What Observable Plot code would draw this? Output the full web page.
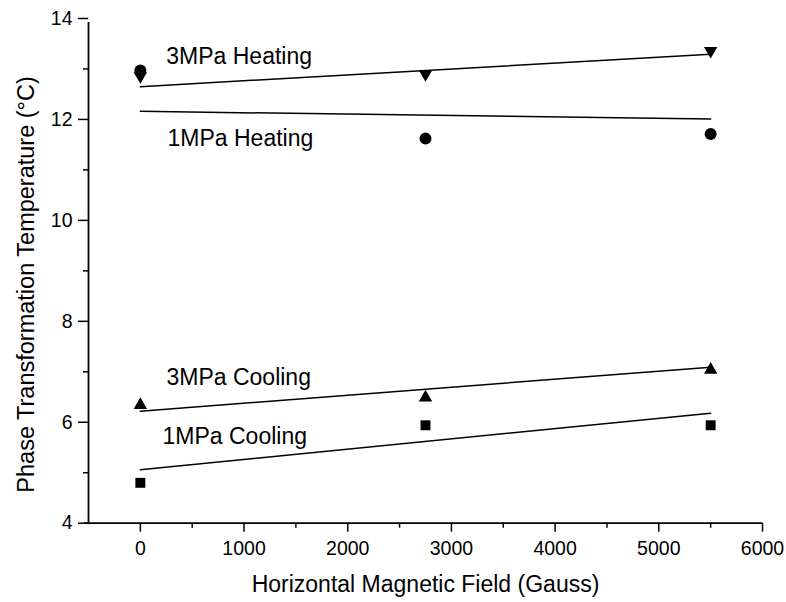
<!DOCTYPE html>
<html>
<head>
<meta charset="utf-8">
<script src="https://cdn.jsdelivr.net/npm/d3@7"></script>
<script src="https://cdn.jsdelivr.net/npm/@observablehq/plot@0.6"></script>
<style>
  html, body { margin: 0; padding: 0; background: #fff; }
  #chart svg { display: block; }
</style>
</head>
<body>
<div id="chart"></div>
<script>
// ---- data ----
const fieldGauss = [0, 2750, 5500];
const heating3MPa = [12.86, 12.90, 13.36];
const heating1MPa = [12.97, 11.62, 11.71];
const cooling3MPa = [6.34, 6.49, 7.04];
const cooling1MPa = [4.80, 5.94, 5.94];

// fitted lines (end points at 0 and 5500 Gauss)
const fitX = [0, 5500];
const fitHeating3MPa = [12.65, 13.29];
const fitHeating1MPa = [12.16, 12.01];
const fitCooling3MPa = [6.22, 7.09];
const fitCooling1MPa = [5.06, 6.18];

// annotation labels (data coordinates)
const labelText = ["3MPa Heating", "1MPa Heating", "3MPa Cooling", "1MPa Cooling"];
const labelX = [250, 262, 252, 214];
const labelY = [13.09, 11.48, 6.73, 5.56];

const xDomain = [-500, 6000];
const yDomain = [4, 14];
const xMajorTicks = [0, 1000, 2000, 3000, 4000, 5000, 6000];
const xMinorTicks = [500, 1500, 2500, 3500, 4500, 5500];
const yMajorTicks = [4, 6, 8, 10, 12, 14];
const yMinorTicks = [5, 7, 9, 11, 13];

const xTitle = "Horizontal Magnetic Field (Gauss)";
const yTitle = "Phase Transformation Temperature (°C)";

// ---- build tables ----
const pts = (ys) => fieldGauss.map((x, i) => ({x, y: ys[i]}));
const fit = (ys) => fitX.map((x, i) => ({x, y: ys[i]}));
const labels = labelText.map((t, i) => ({t, x: labelX[i], y: labelY[i]}));

// downward triangle symbol (d3 triangle flipped)
const triangleDown = {
  draw(context, size) {
    const y = Math.sqrt(size / (3 * Math.sqrt(3)));
    context.moveTo(0, 2 * y);
    context.lineTo(-Math.sqrt(3) * y, -y);
    context.lineTo(Math.sqrt(3) * y, -y);
    context.closePath();
  }
};

const lineStyle = {x: "x", y: "y", stroke: "black", strokeWidth: 1.5};

const chart = Plot.plot({
  width: 786,
  height: 602,
  marginLeft: 88,
  marginRight: 24,
  marginTop: 18,
  marginBottom: 79.3,
  style: {fontFamily: "'Liberation Sans', Arial, sans-serif", fontSize: "19px", background: "white", color: "black"},
  x: {domain: xDomain, label: null},
  y: {domain: yDomain, label: null},
  marks: [
    Plot.axisX({ticks: xMinorTicks, tickSize: 5, tickFormat: () => "", strokeWidth: 1.5, stroke: "black"}),
    Plot.axisX({ticks: xMajorTicks, tickSize: 9, tickPadding: 9, tickFormat: d3.format("d"), strokeWidth: 1.5, stroke: "black", fill: "black", fontSize: 19.5}),
    Plot.axisY({ticks: yMinorTicks, tickSize: 5, tickFormat: () => "", strokeWidth: 1.5, stroke: "black"}),
    Plot.axisY({ticks: yMajorTicks, tickSize: 10, tickPadding: 6, tickFormat: d3.format("d"), strokeWidth: 1.5, stroke: "black", fill: "black", fontSize: 19.5}),
    Plot.ruleX([xDomain[0]], {y1: yDomain[0], y2: yDomain[1], stroke: "black", strokeWidth: 1.8, insetBottom: -4}),
    Plot.ruleY([yDomain[0]], {x1: xDomain[0], x2: xDomain[1], stroke: "black", strokeWidth: 1.8, insetLeft: -4}),

    Plot.line(fit(fitHeating3MPa), lineStyle),
    Plot.line(fit(fitHeating1MPa), lineStyle),
    Plot.line(fit(fitCooling3MPa), lineStyle),
    Plot.line(fit(fitCooling1MPa), lineStyle),

    Plot.dot(pts(heating1MPa), {x: "x", y: "y", symbol: "circle", r: 6, fill: "black", stroke: "none"}),
    Plot.dot(pts(heating3MPa), {x: "x", y: "y", symbol: triangleDown, r: 5, fill: "black", stroke: "none"}),
    Plot.dot(pts(cooling3MPa), {x: "x", y: "y", symbol: "triangle", r: 5, fill: "black", stroke: "none"}),
    Plot.dot(pts(cooling1MPa), {x: "x", y: "y", symbol: "square", r: 5.6, fill: "black", stroke: "none"}),

    Plot.text(labels, {x: "x", y: "y", text: "t", textAnchor: "start", lineAnchor: "bottom", fontSize: 23, fill: "black"}),

    Plot.text([xTitle], {frameAnchor: "bottom", text: d => d, textAnchor: "middle", lineAnchor: "bottom", dy: 68.3, fontSize: 23, fill: "black"}),
    Plot.text([yTitle], {frameAnchor: "left", text: d => d, textAnchor: "middle", rotate: -90, lineAnchor: "bottom", dx: -55, dy: 13.6, fontSize: 23.5, fill: "black"})
  ]
});

document.getElementById("chart").appendChild(chart);
</script>
</body>
</html>
